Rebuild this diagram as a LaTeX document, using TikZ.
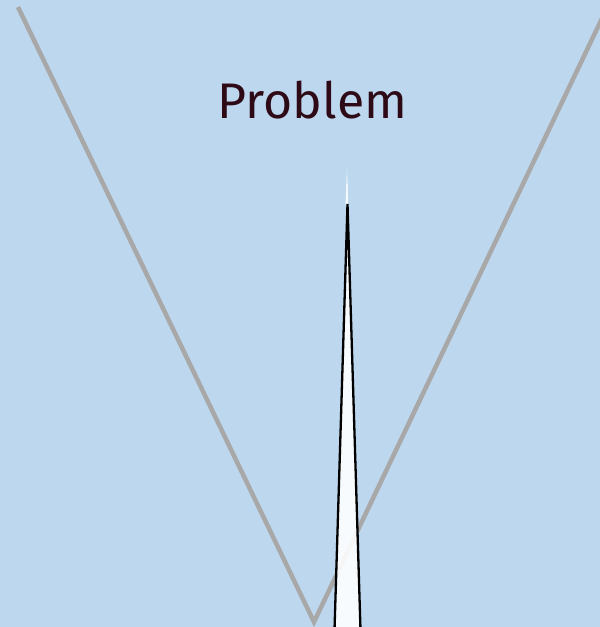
\documentclass[tikz,border=0pt]{standalone}
\usepackage{fontspec}
\setmainfont{Fira Sans}
\definecolor{bg}{HTML}{BDD7EE}
\definecolor{vgray}{HTML}{A8A8A8}
\definecolor{txt}{HTML}{2E0A16}
\begin{document}
\begin{tikzpicture}[x=1pt,y=-1pt]
\fill[bg] (0,0) rectangle (600,627);
\useasboundingbox (0,0) rectangle (600,627);
\draw[vgray,line width=4.5pt] (18,7) -- (314,622) -- (606,10);
\node[txt,font=\fontsize{50}{58}\selectfont,anchor=base] (title) at (312.5,118) {Problem};
\shade[top color=bg,bottom color=white,middle color=white!70!bg] (345.6,205) -- (347,160) -- (348.4,205) -- cycle;
\filldraw[fill=white,fill opacity=0.9,draw=black,line width=2.3pt,line join=miter] (334.5,630) -- (347.5,204) -- (360.5,630);
\end{tikzpicture}
\end{document}
